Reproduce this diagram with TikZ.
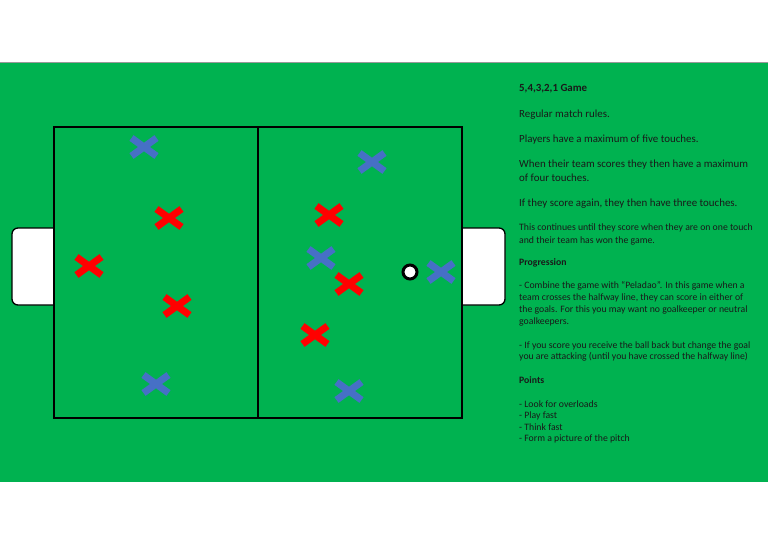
\documentclass[tikz,border=0pt]{standalone}
\usepackage{fontspec}
\setmainfont{Carlito}
\definecolor{pitch}{RGB}{0,178,80}
\definecolor{bluex}{RGB}{70,112,198}
\definecolor{redx}{RGB}{255,0,0}
\begin{document}
\begin{tikzpicture}[x=1pt,y=-1pt,
  fieldline/.style={draw=black,line width=1.3pt},
  goalbox/.style={draw=black,fill=white,line width=1.3pt,rounded corners=6pt},
  txt/.style={anchor=west,inner sep=0pt,font=\fontsize{10.9}{12}\selectfont,text=black!90},
  txts/.style={anchor=west,inner sep=0pt,font=\fontsize{9.75}{11}\selectfont,text=black!90},
  pics/xmark/.style={code={\draw[line width=7pt,#1] (-12.5,-9)--(12.5,9) (-12.5,9)--(12.5,-9);}}]
\useasboundingbox (0,0) rectangle (768,543);
\fill[white] (0,0) rectangle (768,543);
\fill[pitch] (0,62) rectangle (768,482);
\draw[black!40,line width=0.6pt] (0,62) -- (768,62);
% goals
\draw[goalbox] (54,228) -- (12,228) -- (12,305) -- (54,305);
\draw[goalbox] (462,228) -- (505,228) -- (505,305) -- (462,305);
% field
\draw[fieldline] (54,127) rectangle (462,418);
\draw[fieldline] (258,127) -- (258,418);
% players
\pic at (144,147) {xmark=bluex};
\pic at (372,162) {xmark=bluex};
\pic at (321,258) {xmark=bluex};
\pic at (441,272) {xmark=bluex};
\pic at (156,384) {xmark=bluex};
\pic at (349,391) {xmark=bluex};
\pic at (169,218) {xmark=redx};
\pic at (89,266) {xmark=redx};
\pic at (177,306) {xmark=redx};
\pic at (329,215) {xmark=redx};
\pic at (349,284) {xmark=redx};
\pic at (315,335) {xmark=redx};
% ball
\node[circle,draw=black,fill=white,line width=3pt,minimum size=14pt,inner sep=0pt] (ball) at (410,272) {};
% text
\node[txt,font=\fontsize{10.9}{12}\selectfont\bfseries] (t1) at (519,89) {5,4,3,2,1 Game};
\node[txt] (t2) at (519,115) {Regular match rules.};
\node[txt] (t3) at (519,140) {Players have a maximum of five touches.};
\node[txt] (t4) at (519,165) {When their team scores they then have a maximum};
\node[txt] (t5) at (519,178) {of four touches.};
\node[txt] (t6) at (519,204) {If they score again, they then have three touches.};
\node[txts] (t7) at (519,228) {This continues until they score when they are on one touch};
\node[txts] (t8) at (519,241) {and their team has won the game.};
\node[txts,font=\fontsize{9.75}{11}\selectfont\bfseries] (t9) at (519,263) {Progression};
\node[txts] (t10) at (519,286) {- Combine the game with “Peladao”. In this game when a};
\node[txts] (t11) at (519,298) {team crosses the halfway line, they can score in either of};
\node[txts] (t12) at (519,310) {the goals. For this you may want no goalkeeper or neutral};
\node[txts] (t13) at (519,322) {goalkeepers.};
\node[txts] (t14) at (519,346) {- If you score you receive the ball back but change the goal};
\node[txts] (t15) at (519,357) {you are attacking (until you have crossed the halfway line)};
\node[txts,font=\fontsize{9.75}{11}\selectfont\bfseries] (t16) at (519,380) {Points};
\node[txts] (t17) at (519,404) {- Look for overloads};
\node[txts] (t18) at (519,416) {- Play fast};
\node[txts] (t19) at (519,427) {- Think fast};
\node[txts] (t20) at (519,439) {- Form a picture of the pitch};
\end{tikzpicture}
\end{document}
